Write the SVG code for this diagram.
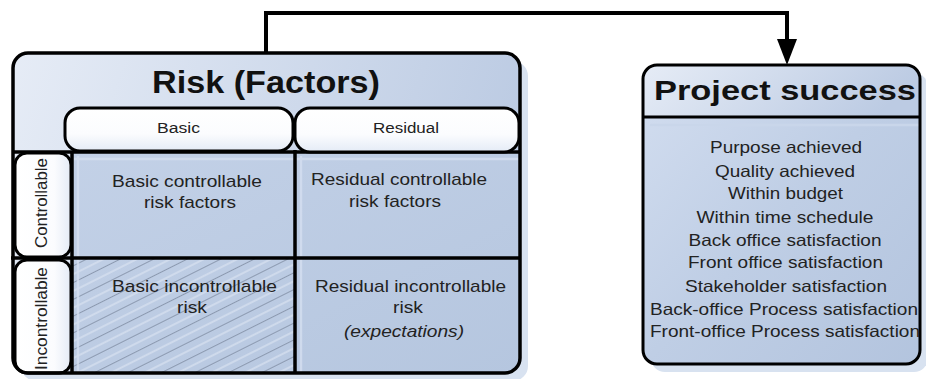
<svg xmlns="http://www.w3.org/2000/svg" width="926" height="379" viewBox="0 0 926 379">
  <style>
    .t { font-family: "Liberation Sans", Arial, sans-serif; fill: #222; }
    .title { font-weight: bold; fill: #111; }
    .frame { fill: none; stroke: #000; stroke-width: 3.5; }
    .pill { fill: url(#pillFill); stroke: #000; stroke-width: 3; }
    .side { fill: url(#sideFill); stroke: #000; stroke-width: 3; }
    .grid { stroke: #000; stroke-width: 3.5; fill: none; }
    .glow { stroke: #d4dff0; stroke-width: 2.5; fill: none; opacity: 0.8; }
    .shadow { fill: #d8e2f0; }
  </style>
  <defs>
    <linearGradient id="headFill" x1="0" y1="0" x2="1" y2="0.2">
      <stop offset="0" stop-color="#e6ecf6"/>
      <stop offset="1" stop-color="#bccbe3"/>
    </linearGradient>
    <linearGradient id="cellFill" x1="0" y1="0" x2="1" y2="1">
      <stop offset="0" stop-color="#c3d1e7"/>
      <stop offset="1" stop-color="#b5c6df"/>
    </linearGradient>
    <linearGradient id="bodyFill" x1="0" y1="0" x2="1" y2="1">
      <stop offset="0" stop-color="#d3def0"/>
      <stop offset="0.5" stop-color="#bfcee5"/>
      <stop offset="1" stop-color="#b3c4de"/>
    </linearGradient>
    <linearGradient id="pillFill" x1="0" y1="0" x2="0" y2="1">
      <stop offset="0" stop-color="#ffffff"/>
      <stop offset="0.6" stop-color="#fbfcfe"/>
      <stop offset="1" stop-color="#e4ebf6"/>
    </linearGradient>
    <linearGradient id="sideFill" x1="0" y1="0" x2="1" y2="0">
      <stop offset="0" stop-color="#ffffff"/>
      <stop offset="0.7" stop-color="#fbfcfe"/>
      <stop offset="1" stop-color="#e4ebf6"/>
    </linearGradient>
    <pattern id="hatch" patternUnits="userSpaceOnUse" width="20" height="15" patternTransform="rotate(-26.6)">
      <line x1="0" y1="0.5" x2="20" y2="0.5" stroke="#8794aa" stroke-width="0.9"/>
      <line x1="0" y1="8" x2="20" y2="8" stroke="#dce5f2" stroke-width="1.2"/>
    </pattern>
    <clipPath id="riskClip">
      <rect x="13" y="53" width="507" height="320" rx="15"/>
    </clipPath>
    <clipPath id="projClip">
      <rect x="643" y="65" width="277" height="299" rx="14"/>
    </clipPath>
    <marker id="arrowHead" markerUnits="userSpaceOnUse" viewBox="0 0 26 20" markerWidth="26" markerHeight="20" refX="0" refY="10" orient="auto">
      <path d="M0,0 L26,10 L0,20 Z" fill="#000"/>
    </marker>
  </defs>

  <rect width="926" height="379" fill="#ffffff"/>

  <!-- connector: risk factors feed project success -->
  <g id="connectors">
    <path d="M266,54 V13 H787 V39" fill="none" stroke="#000" stroke-width="4" marker-end="url(#arrowHead)"/>
  </g>

  <!-- risk factor matrix -->
  <g id="risk-factors">
    <rect class="shadow" x="21" y="61" width="507" height="320" rx="15"/>
    <rect x="13" y="53" width="507" height="320" rx="15" fill="url(#headFill)"/>
    <g clip-path="url(#riskClip)">
      <rect x="72" y="152" width="448" height="221" fill="url(#cellFill)"/>
      <rect x="72" y="258" width="223" height="115" fill="url(#hatch)"/>
      <path class="glow" d="M78,156 V373 M72,159 H520 M301,156 V373"/>
    </g>
    <path class="grid" d="M13,152 H520 M11,258 H520 M72,152 V373 M295,150 V373"/>

    <g id="col-basic">
      <rect class="pill" x="65" y="108" width="228" height="43" rx="15"/>
      <text class="t" x="178.5" y="133" font-size="14" text-anchor="middle" textLength="43" lengthAdjust="spacingAndGlyphs">Basic</text>
    </g>
    <g id="col-residual">
      <rect class="pill" x="295" y="108" width="224" height="44" rx="15"/>
      <text class="t" x="406" y="133" font-size="14" text-anchor="middle" textLength="66" lengthAdjust="spacingAndGlyphs">Residual</text>
    </g>
    <g id="row-controllable">
      <rect class="side" x="15" y="153" width="56" height="104" rx="12"/>
      <text class="t" transform="translate(47,203) rotate(-90)" font-size="17" text-anchor="middle" textLength="90" lengthAdjust="spacingAndGlyphs">Controllable</text>
    </g>
    <g id="row-incontrollable">
      <rect class="side" x="15" y="260" width="56" height="113" rx="12"/>
      <text class="t" transform="translate(47,318.5) rotate(-90)" font-size="17" text-anchor="middle" textLength="103" lengthAdjust="spacingAndGlyphs">Incontrollable</text>
    </g>

    <g id="cell-basic-controllable" class="t" font-size="17" text-anchor="middle">
      <text x="187" y="187" textLength="150" lengthAdjust="spacingAndGlyphs">Basic controllable</text>
      <text x="190" y="208" textLength="92" lengthAdjust="spacingAndGlyphs">risk factors</text>
    </g>
    <g id="cell-residual-controllable" class="t" font-size="17" text-anchor="middle">
      <text x="399" y="185" textLength="176" lengthAdjust="spacingAndGlyphs">Residual controllable</text>
      <text x="395" y="207" textLength="92" lengthAdjust="spacingAndGlyphs">risk factors</text>
    </g>
    <g id="cell-basic-incontrollable" class="t" font-size="17" text-anchor="middle">
      <text x="194.5" y="292" textLength="165" lengthAdjust="spacingAndGlyphs">Basic incontrollable</text>
      <text x="192" y="313" textLength="30" lengthAdjust="spacingAndGlyphs">risk</text>
    </g>
    <g id="cell-residual-incontrollable" class="t" font-size="17" text-anchor="middle">
      <text x="410.5" y="292" textLength="191" lengthAdjust="spacingAndGlyphs">Residual incontrollable</text>
      <text x="408" y="313" textLength="30" lengthAdjust="spacingAndGlyphs">risk</text>
      <text x="404" y="337" font-style="italic" textLength="120" lengthAdjust="spacingAndGlyphs">(expectations)</text>
    </g>

    <rect class="frame" x="13" y="53" width="507" height="320" rx="15"/>
    <text class="t title" x="266" y="93" font-size="31" text-anchor="middle" textLength="228" lengthAdjust="spacingAndGlyphs">Risk (Factors)</text>
  </g>

  <!-- project success criteria -->
  <g id="project-success">
    <rect class="shadow" x="651" y="73" width="277" height="299" rx="14"/>
    <rect x="643" y="65" width="277" height="299" rx="14" fill="url(#bodyFill)"/>
    <g clip-path="url(#projClip)">
      <rect x="643" y="65" width="277" height="52" fill="url(#headFill)"/>
      <path d="M650,125 H920" stroke="#c9d6ea" stroke-width="2.5"/>
    </g>
    <path d="M643,117 H920" stroke="#000" stroke-width="3"/>
    <rect x="643" y="65" width="277" height="299" rx="14" fill="none" stroke="#000" stroke-width="3"/>
    <text class="t title" x="785" y="100" font-size="28" text-anchor="middle" textLength="262" lengthAdjust="spacingAndGlyphs">Project success</text>
    <g class="t" font-size="16.5" text-anchor="middle">
      <text x="786" y="153" textLength="152" lengthAdjust="spacingAndGlyphs">Purpose achieved</text>
      <text x="785" y="177" textLength="140" lengthAdjust="spacingAndGlyphs">Quality achieved</text>
      <text x="785.5" y="199" textLength="115" lengthAdjust="spacingAndGlyphs">Within budget</text>
      <text x="785" y="223" textLength="177" lengthAdjust="spacingAndGlyphs">Within time schedule</text>
      <text x="785" y="246" textLength="193" lengthAdjust="spacingAndGlyphs">Back office satisfaction</text>
      <text x="785.5" y="268" textLength="195" lengthAdjust="spacingAndGlyphs">Front office satisfaction</text>
      <text x="786" y="292" textLength="202" lengthAdjust="spacingAndGlyphs">Stakeholder satisfaction</text>
      <text x="784" y="315" textLength="268" lengthAdjust="spacingAndGlyphs">Back-office Process satisfaction</text>
      <text x="785" y="337" textLength="270" lengthAdjust="spacingAndGlyphs">Front-office Process satisfaction</text>
    </g>
  </g>
</svg>
